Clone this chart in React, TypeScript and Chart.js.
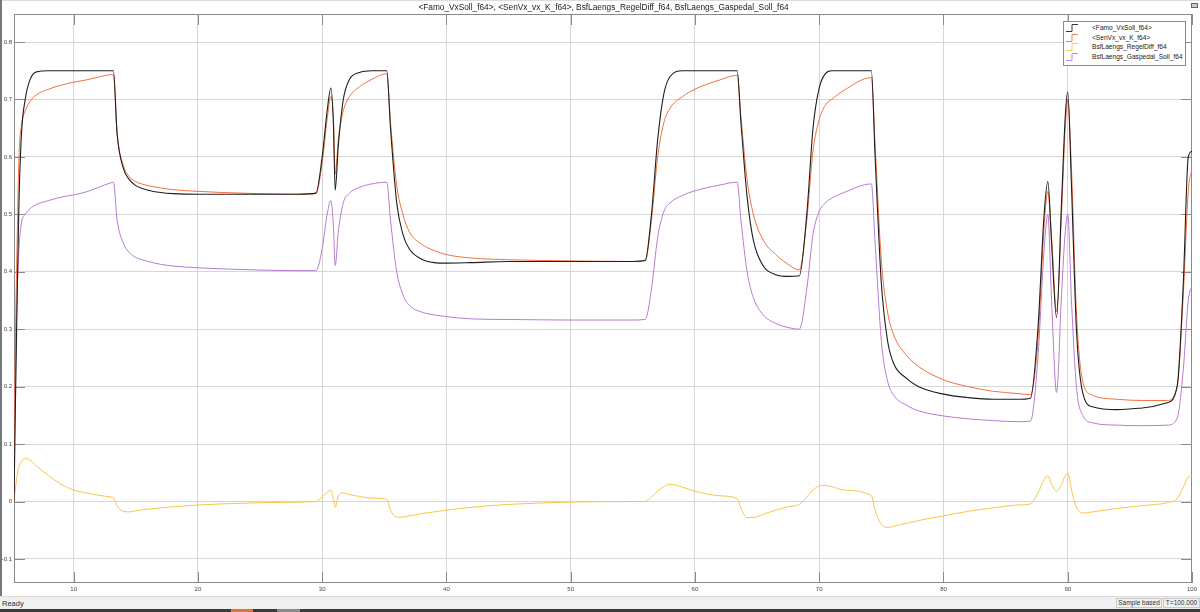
import React, { useEffect, useRef } from "react";
import { Chart, registerables } from "chart.js";

Chart.register(...registerables);

const titleText =
  "<Famo_VxSoll_f64>, <SenVx_vx_K_f64>, BsfLaengs_RegelDiff_f64, BsfLaengs_Gaspedal_Soll_f64";
const seriesNames = [
  "<Famo_VxSoll_f64>",
  "<SenVx_vx_K_f64>",
  "BsfLaengs_RegelDiff_f64",
  "BsfLaengs_Gaspedal_Soll_f64",
];
const seriesColors = ["#1e1e1e", "#f2703f", "#f7c548", "#b57bd2"];

const xTicks = [10, 20, 30, 40, 50, 60, 70, 80, 90, 100];
const xTickLabels = ["10", "20", "30", "40", "50", "60", "70", "80", "90", "100"];
const yTicks = [-0.1, 0, 0.1, 0.2, 0.3, 0.4, 0.5, 0.6, 0.7, 0.8];
const yTickLabels = ["-0.1", "0", "0.1", "0.2", "0.3", "0.4", "0.5", "0.6", "0.7", "0.8"];

const time = [
  5.2, 5.3, 5.45, 5.6, 5.8, 6.1, 6.5, 7, 8, 9, 10, 11, 12, 13, 13.2, 13.5, 14, 14.5, 15, 16, 17,
  18, 20, 22, 25, 28, 29.5, 30, 30.4, 30.7, 30.9, 31.05, 31.3, 31.7, 32.2, 33, 34, 35.2, 35.5, 36,
  36.5, 37, 38, 39, 40, 42, 45, 50, 55, 56, 56.5, 57, 57.5, 58, 59, 60, 62, 63.4, 63.7, 64.2, 64.7,
  65.5, 66.5, 67.5, 68.4, 69, 69.5, 70, 70.5, 71, 72, 74.2, 74.5, 75, 75.5, 76, 77, 78, 80, 82, 84,
  86, 87, 87.6, 88.1, 88.4, 88.7, 89.1, 89.5, 89.8, 90, 90.3, 90.7, 91.2, 92, 94, 96, 98, 98.8,
  99.3, 99.7, 100,
];

const famoVxSoll = [
  0, 0.15, 0.35, 0.52, 0.64, 0.7, 0.735, 0.748, 0.75, 0.75, 0.75, 0.75, 0.75, 0.75, 0.75, 0.64, 0.58,
  0.56, 0.55, 0.542, 0.538, 0.536, 0.535, 0.535, 0.535, 0.535, 0.537, 0.6, 0.68, 0.72, 0.66, 0.542,
  0.62, 0.7, 0.735, 0.747, 0.75, 0.75, 0.65, 0.52, 0.465, 0.44, 0.422, 0.416, 0.415, 0.416, 0.418,
  0.418, 0.418, 0.42, 0.5, 0.63, 0.71, 0.74, 0.75, 0.75, 0.75, 0.75, 0.66, 0.53, 0.455, 0.41,
  0.395, 0.392, 0.393, 0.5, 0.65, 0.72, 0.745, 0.75, 0.75, 0.75, 0.6, 0.38, 0.28, 0.24, 0.215, 0.2,
  0.187, 0.181, 0.178, 0.178, 0.18, 0.3, 0.5, 0.557, 0.45, 0.32, 0.52, 0.67, 0.713, 0.55, 0.3, 0.19,
  0.165, 0.16, 0.163, 0.172, 0.2, 0.38, 0.6, 0.61,
];

const senVxK = [
  0, 0.25, 0.45, 0.6, 0.655, 0.68, 0.697, 0.708, 0.718, 0.725, 0.73, 0.734, 0.739, 0.743, 0.743,
  0.64, 0.585, 0.565, 0.557, 0.55, 0.546, 0.543, 0.54, 0.538, 0.536, 0.535, 0.536, 0.59, 0.665,
  0.705, 0.67, 0.57, 0.63, 0.68, 0.705, 0.722, 0.735, 0.745, 0.66, 0.55, 0.5, 0.47, 0.448, 0.437,
  0.43, 0.424, 0.421, 0.419, 0.418, 0.419, 0.49, 0.6, 0.66, 0.685, 0.705, 0.718, 0.734, 0.742, 0.67,
  0.56, 0.5, 0.455, 0.43, 0.413, 0.403, 0.49, 0.61, 0.665, 0.69, 0.7, 0.716, 0.738, 0.62, 0.42,
  0.33, 0.29, 0.255, 0.235, 0.212, 0.2, 0.192, 0.188, 0.186, 0.28, 0.48, 0.54, 0.46, 0.33, 0.5,
  0.65, 0.7, 0.58, 0.33, 0.21, 0.185, 0.178, 0.176, 0.176, 0.2, 0.36, 0.54, 0.58,
];

const regelDiff = [
  0, 0.02, 0.045, 0.06, 0.07, 0.075, 0.072, 0.062, 0.045, 0.03, 0.02, 0.015, 0.011, 0.008, 0.007,
  -0.008, -0.017, -0.018, -0.016, -0.013, -0.011, -0.009, -0.006, -0.004, -0.002, -0.001, 0, 0.008,
  0.016, 0.02, 0.005, -0.01, 0.01, 0.015, 0.012, 0.009, 0.006, 0.004, -0.015, -0.027, -0.027, -0.025,
  -0.021, -0.018, -0.015, -0.01, -0.005, -0.001, 0, 0, 0.008, 0.018, 0.026, 0.03, 0.025, 0.018,
  0.01, 0.005, -0.012, -0.028, -0.028, -0.022, -0.015, -0.009, -0.005, 0.008, 0.02, 0.027, 0.028,
  0.026, 0.02, 0.01, -0.015, -0.04, -0.045, -0.043, -0.038, -0.033, -0.025, -0.017, -0.011, -0.006,
  -0.004, 0.015, 0.038, 0.045, 0.03, 0.018, 0.03, 0.045, 0.05, 0.02, -0.01, -0.02, -0.018, -0.012,
  -0.007, -0.002, 0.005, 0.025, 0.043, 0.045,
];

const gaspedalSoll = [
  0, 0.2, 0.36, 0.44, 0.485, 0.5, 0.51, 0.517, 0.524, 0.53, 0.534, 0.539, 0.547, 0.555, 0.556,
  0.49, 0.45, 0.433, 0.425, 0.418, 0.413, 0.41, 0.407, 0.405, 0.403, 0.402, 0.402, 0.44, 0.5, 0.524,
  0.48, 0.411, 0.47, 0.52, 0.537, 0.547, 0.553, 0.556, 0.49, 0.4, 0.36, 0.342, 0.33, 0.325, 0.322,
  0.318, 0.317, 0.316, 0.316, 0.317, 0.37, 0.46, 0.505, 0.52, 0.533, 0.541, 0.551, 0.556, 0.49, 0.4,
  0.355, 0.325, 0.31, 0.303, 0.3, 0.37, 0.465, 0.505, 0.52, 0.528, 0.538, 0.553, 0.45, 0.28, 0.21,
  0.185, 0.168, 0.158, 0.149, 0.144, 0.141, 0.139, 0.14, 0.25, 0.44, 0.5, 0.35, 0.19, 0.36, 0.47,
  0.5, 0.35, 0.2, 0.15, 0.137, 0.133, 0.132, 0.133, 0.145, 0.23, 0.35, 0.376,
];

const seriesValues = [famoVxSoll, senVxK, regelDiff, gaspedalSoll];

const framePlugin = {
  id: "scopeFrame",
  beforeDatasetsDraw(chart: any) {
    const { ctx, chartArea: a, scales } = chart;
    ctx.save();
    ctx.strokeStyle = "#8a8a8a";
    ctx.lineWidth = 1;
    ctx.beginPath();
    const L = 11;
    xTicks.forEach((v) => {
      const px = Math.round(scales.x.getPixelForValue(v)) + 0.5;
      ctx.moveTo(px, a.top);
      ctx.lineTo(px, a.top + L);
      ctx.moveTo(px, a.bottom);
      ctx.lineTo(px, a.bottom - L);
    });
    yTicks.forEach((v) => {
      const py = Math.round(scales.y.getPixelForValue(v)) + 0.5;
      ctx.moveTo(a.left, py);
      ctx.lineTo(a.left + L, py);
      ctx.moveTo(a.right, py);
      ctx.lineTo(a.right - L, py);
    });
    ctx.stroke();
    ctx.strokeRect(
      Math.round(a.left) + 0.5,
      Math.round(a.top) + 0.5,
      Math.round(a.right - a.left) - 1,
      Math.round(a.bottom - a.top) - 1
    );
    ctx.restore();
  },
};

const FONT = "'Liberation Sans', Arial, sans-serif";

export default function App() {
  const canvasRef = useRef<HTMLCanvasElement | null>(null);

  useEffect(() => {
    const canvas = canvasRef.current;
    if (!canvas) return;
    const datasets = seriesNames.map((name, i) => ({
      label: name,
      data: time.map((t, j) => ({ x: t, y: seriesValues[i][j] })),
      borderColor: seriesColors[i],
      backgroundColor: seriesColors[i],
      borderWidth: i === 0 ? 1.1 : 1,
      pointRadius: 0,
      fill: false,
      cubicInterpolationMode: "monotone" as const,
    }));
    const chart = new Chart(canvas, {
      type: "line",
      data: { datasets },
      options: {
        responsive: false,
        animation: false,
        events: [],
        layout: { padding: { top: 14, right: 7, left: 0, bottom: 0 } },
        plugins: {
          legend: { display: false },
          tooltip: { enabled: false },
          title: { display: false },
        },
        scales: {
          x: {
            type: "linear",
            min: 5.2,
            max: 100,
            afterBuildTicks: (s: any) => {
              s.ticks = xTicks.map((v) => ({ value: v }));
            },
            afterFit: (s: any) => {
              s.height = 13;
            },
            grid: { color: "#d6d6d6", drawTicks: false, lineWidth: 1 },
            border: { display: false },
            ticks: {
              autoSkip: false,
              maxRotation: 0,
              padding: 3,
              color: "#444",
              font: { size: 6, family: FONT },
              callback: (_v: any, i: number) => xTickLabels[i],
            },
          },
          y: {
            type: "linear",
            min: -0.1418,
            max: 0.8488,
            afterBuildTicks: (s: any) => {
              s.ticks = yTicks.map((v) => ({ value: v }));
            },
            afterFit: (s: any) => {
              s.width = 14;
            },
            grid: { color: "#d6d6d6", drawTicks: false, lineWidth: 1 },
            border: { display: false },
            ticks: {
              autoSkip: false,
              padding: 2,
              color: "#444",
              font: { size: 6, family: FONT },
              callback: (_v: any, i: number) => yTickLabels[i],
            },
          },
        },
      },
      plugins: [framePlugin],
    });
    return () => chart.destroy();
  }, []);

  return (
    <div
      style={{
        position: "fixed",
        left: 0,
        top: 0,
        width: 1200,
        height: 612,
        background: "#fff",
        overflow: "hidden",
        fontFamily: FONT,
      }}
    >
      <canvas
        ref={canvasRef}
        width={1200}
        height={596}
        style={{ position: "absolute", left: 0, top: 0, width: 1200, height: 596 }}
      />
      <div style={{ position: "absolute", left: 0, top: 0, width: 1200, height: 1, background: "#dcdcdc" }} />
      <div
        style={{
          position: "absolute",
          left: 14,
          width: 1179,
          top: 3,
          textAlign: "center",
          fontSize: 8.3,
          lineHeight: "9px",
          color: "#222",
          whiteSpace: "nowrap",
        }}
      >
        {titleText}
      </div>
      <div
        style={{
          position: "absolute",
          left: 1191,
          top: 3,
          width: 7,
          height: 5,
          border: "1px solid #666",
          background: "#ccc",
          boxSizing: "border-box",
        }}
      />
      <div
        style={{
          position: "absolute",
          left: 1063,
          top: 21,
          width: 123,
          height: 45,
          border: "1px solid #8a8a8a",
          background: "#fff",
          boxSizing: "border-box",
        }}
      >
        {seriesNames.map((name, i) => (
          <div
            key={name}
            style={{ position: "absolute", left: 0, top: 1 + i * 9.6, height: 9, width: 120 }}
          >
            <svg width={12} height={8} style={{ position: "absolute", left: 2, top: 1 }}>
              <path d="M0 7.5 H6 V0.5 H12" fill="none" stroke={seriesColors[i]} strokeWidth={0.9} />
            </svg>
            <span
              style={{
                position: "absolute",
                left: 28,
                top: 0,
                fontSize: 6.6,
                lineHeight: "9px",
                color: "#222",
                whiteSpace: "nowrap",
              }}
            >
              {name}
            </span>
          </div>
        ))}
      </div>
      <div style={{ position: "absolute", left: 0, top: 0, width: 1.5, height: 609, background: "#777" }} />
      <div
        style={{
          position: "absolute",
          left: 0,
          top: 596,
          width: 1200,
          height: 13,
          background: "#f0f0f0",
          borderTop: "1px solid #dadada",
          boxSizing: "border-box",
        }}
      >
        <span style={{ position: "absolute", left: 2, top: 2, fontSize: 7.5, lineHeight: "9px", color: "#333" }}>
          Ready
        </span>
        <span
          style={{
            position: "absolute",
            left: 1116,
            top: 1,
            width: 46,
            height: 10,
            border: "1px solid #c8c8c8",
            boxSizing: "border-box",
            fontSize: 6.5,
            lineHeight: "8px",
            textAlign: "center",
            color: "#333",
            whiteSpace: "nowrap",
          }}
        >
          Sample based
        </span>
        <span
          style={{
            position: "absolute",
            left: 1163,
            top: 1,
            width: 37,
            height: 10,
            border: "1px solid #c8c8c8",
            boxSizing: "border-box",
            fontSize: 6.5,
            lineHeight: "8px",
            textAlign: "center",
            color: "#333",
            whiteSpace: "nowrap",
          }}
        >
          T=100.000
        </span>
      </div>
      <div style={{ position: "absolute", left: 0, top: 609, width: 1200, height: 3, background: "#3b3b3b" }} />
      <div style={{ position: "absolute", left: 231, top: 609, width: 22, height: 3, background: "#e0753a" }} />
      <div style={{ position: "absolute", left: 277, top: 609, width: 23, height: 3, background: "#8a8a8a" }} />
    </div>
  );
}
